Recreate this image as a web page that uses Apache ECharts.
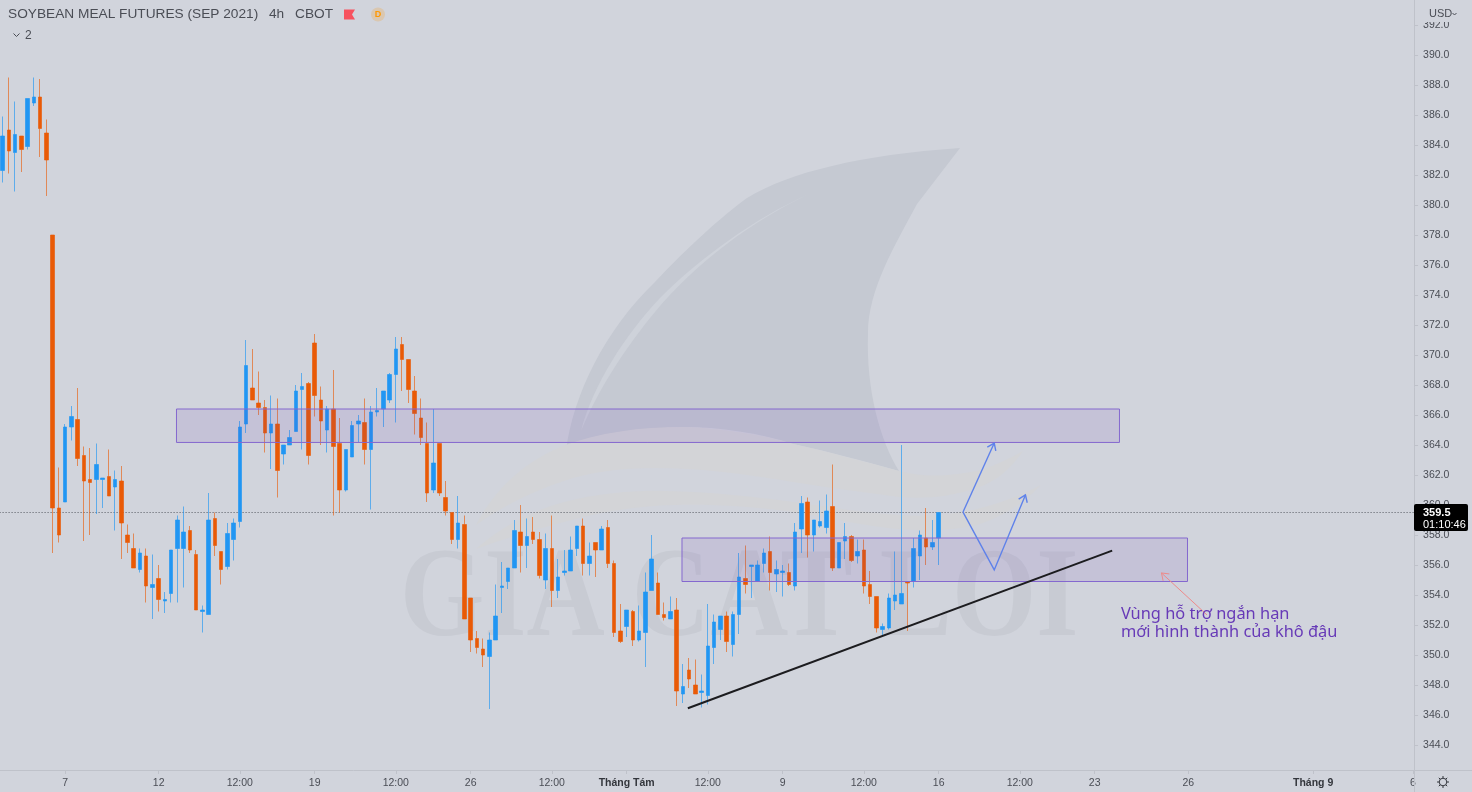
<!DOCTYPE html>
<html><head><meta charset="utf-8">
<style>html,body{margin:0;padding:0;background:#d1d4dc;overflow:hidden}#c{width:1472px;height:792px}</style>
<script src="https://cdn.jsdelivr.net/npm/echarts@6/dist/echarts.min.js"></script>
</head><body><div id="c"></div>
<script>
const slotCount = 227;
const timeTicks = {10:'7',25:'12',38:'12:00',50:'19',63:'12:00',75:'26',88:'12:00',100:'Tháng Tám',113:'12:00',125:'9',138:'12:00',150:'16',163:'12:00',175:'23',190:'26',210:'Tháng 9',226:'6'};
const monthTicks = ['Tháng Tám','Tháng 9'];
const priceTicks = [344,346,348,350,352,354,356,358,360,362,364,366,368,370,372,374,376,378,380,382,384,386,388,390,392];
const opens = [
382.3,385.0,383.5,384.6,383.9,386.8,387.2,384.8,378.0,359.8,
360.2,365.2,365.7,363.3,361.7,361.7,361.7,361.9,361.2,361.6,
358.0,357.1,355.7,356.6,354.5,355.1,353.6,354.1,357.1,357.1,
358.3,356.7,352.9,352.7,359.1,356.9,355.9,357.7,358.9,365.4,
367.8,366.8,366.5,364.8,365.4,363.4,364.0,364.9,367.7,368.1,
370.8,367.0,365.0,366.4,364.1,361.0,363.2,365.4,365.5,363.7,
366.2,366.4,367.0,368.7,370.7,369.7,367.6,365.8,364.1,361.0,
364.1,360.5,359.5,357.7,358.7,353.8,351.1,350.4,349.9,351.0,
354.5,354.9,355.8,358.2,357.3,358.2,357.7,355.0,357.1,354.3,
355.5,355.6,357.1,358.6,356.1,357.5,357.0,358.5,356.1,351.6,
351.9,352.9,351.0,351.5,354.3,354.8,352.7,352.4,353.0,347.4,
349.0,348.0,347.5,347.3,350.5,351.7,352.6,350.7,352.7,355.1,
355.9,354.9,356.1,356.9,355.4,355.5,355.5,354.6,358.4,360.2,
358.0,358.6,358.5,359.9,355.8,357.6,357.9,356.6,357.0,354.7,
353.9,351.7,351.8,353.6,353.4,354.9,354.9,356.6,357.8,357.2,
357.8];
const closes = [
384.6,383.6,384.7,383.7,387.1,387.2,385.1,383.0,359.8,358.0,
365.2,365.9,363.1,361.6,361.5,362.7,361.8,360.6,361.7,358.8,
357.5,355.8,356.8,354.6,354.7,353.7,353.7,357.0,359.0,358.2,
357.0,353.0,353.0,359.0,357.3,355.7,358.1,358.8,365.2,369.3,
367.0,366.5,364.8,365.4,362.3,364.0,364.5,367.6,367.9,363.3,
367.3,365.6,366.4,363.9,361.0,363.7,365.3,365.6,363.7,366.2,
366.3,367.6,368.7,370.4,369.7,367.7,366.1,364.5,360.8,362.8,
360.8,359.6,357.7,358.8,352.4,351.0,350.5,350.0,351.0,352.6,
354.6,355.8,358.3,357.3,357.9,357.7,355.3,357.1,354.3,355.2,
355.6,357.0,358.6,356.1,356.6,357.0,358.4,356.1,351.5,350.9,
353.0,351.0,351.6,354.2,356.4,352.7,352.5,352.9,347.6,347.9,
348.4,347.4,347.6,350.6,352.2,352.6,350.9,352.7,355.2,354.7,
356.0,356.0,356.8,355.5,355.7,355.6,354.7,358.2,360.1,358.0,
359.0,358.9,359.6,355.8,357.5,357.9,356.3,356.9,354.6,353.9,
351.8,351.9,353.8,354.0,354.1,354.8,357.1,358.0,357.2,357.5,
359.5];
const lows = [
381.5,382.1,380.9,382.2,383.7,386.6,383.2,380.6,356.8,357.5,
360.2,364.3,362.6,357.6,358.0,359.4,359.8,360.6,358.3,356.4,
356.8,355.8,355.5,353.5,352.4,352.9,352.8,353.5,353.5,354.5,
356.8,353.0,351.5,352.7,356.6,354.7,355.7,356.3,358.5,364.8,
367.0,366.0,363.5,362.4,360.5,362.7,364.0,364.9,363.7,362.7,
365.9,364.0,363.5,359.3,359.5,360.9,363.2,364.2,362.7,359.7,
365.9,365.2,366.8,365.5,367.6,366.8,364.7,364.0,360.2,360.8,
360.6,359.3,357.4,357.1,352.4,350.2,350.1,349.2,346.4,351.0,
352.8,354.4,355.8,355.5,355.8,357.4,355.1,354.4,353.2,353.8,
355.3,355.6,356.6,355.3,355.3,355.2,357.0,355.8,351.2,350.8,
351.2,350.6,350.9,349.2,354.3,352.7,352.3,352.4,346.6,346.8,
347.8,347.4,346.5,346.7,349.4,351.0,350.2,349.9,351.4,354.1,
353.8,354.9,355.5,354.3,354.2,353.9,354.6,354.3,356.8,356.5,
356.9,358.5,358.1,355.6,355.8,356.4,356.2,356.1,354.1,353.4,
351.5,351.3,351.7,353.0,353.4,351.6,354.5,355.0,356.0,357.0,
356.0];
const highs = [
385.9,388.5,386.9,384.6,387.1,388.5,388.4,385.7,378.0,362.5,
365.4,366.6,367.8,363.9,363.8,364.1,361.8,363.7,362.3,362.6,
358.7,358.1,357.1,357.1,356.7,356.0,354.2,357.0,359.3,359.9,
358.6,357.0,353.3,360.8,359.5,356.9,358.8,359.1,365.6,371.0,
370.4,368.9,367.0,367.3,367.1,364.0,365.0,368.0,368.8,368.2,
371.4,367.9,366.6,369.0,365.8,363.7,365.6,366.0,367.1,366.6,
367.8,367.6,368.8,371.2,371.2,369.7,368.6,367.1,365.5,366.4,
364.1,361.6,359.5,360.6,359.3,353.8,351.6,351.1,351.5,354.7,
356.2,355.8,359.0,360.0,359.1,359.2,358.2,358.1,359.3,356.4,
357.0,357.9,358.6,359.1,357.5,357.5,358.6,359.0,356.3,353.4,
353.0,353.0,353.3,355.5,358.0,355.5,353.5,353.9,353.8,349.4,
349.8,349.7,348.7,353.4,352.7,352.6,352.9,352.9,356.8,357.3,
356.0,356.3,357.1,357.9,356.3,356.0,356.1,358.8,360.6,360.5,
359.0,360.3,360.7,362.7,357.5,358.8,358.0,357.7,357.7,355.6,
353.9,352.1,354.1,356.9,364.0,354.9,357.8,358.3,359.8,359.0,
359.5];
const lastPrice = 359.5;
const countdown = '01:10:46';
// drawings, given as [slot on the time scale, price]
const zoneBoxes = [[27.85,366.4,178.97,364.17],[108.86,357.8,189.87,354.9]];
const trendLine = [[109.8,346.45],[177.8,356.96]];
const upPath = [[153.9,359.53],[158.9,364.13]];
const downUpPath = [[153.9,359.53],[158.9,355.67],[163.9,360.67]];
const calloutPath = [[193,352.67],[185.7,355.47]];
const noteLines = [[179.2,352.74,'Vùng hỗ trợ ngắn hạn'],[179.2,351.51,'mới hình thành của khô đậu']];

const categories = Array.from({length:slotCount},(_,i)=>timeTicks[i]||'');
const candles = opens.map((o,i)=>[o,closes[i],lows[i],highs[i]]);

function polyRender(points,color,width,arrow){
  return function(params,api){
    const pts = points.map(p=>api.coord(p));
    const kids = [{type:'polyline',shape:{points:pts},style:{stroke:color,lineWidth:width,fill:null,lineJoin:'miter'}}];
    if(arrow){
      const a=pts[pts.length-2],b=pts[pts.length-1];
      const t=Math.atan2(b[1]-a[1],b[0]-a[0]),L=8,w=0.62;
      kids.push({type:'polyline',shape:{points:[
        [b[0]-L*Math.cos(t-w),b[1]-L*Math.sin(t-w)],b,
        [b[0]-L*Math.cos(t+w),b[1]-L*Math.sin(t+w)]]},style:{stroke:color,lineWidth:width,fill:null}});
    }
    return {type:'group',children:kids};
  };
}
function drawSeries(id,render,z){
  return {type:'custom',id:id,xAxisIndex:1,yAxisIndex:0,data:[[0,350]],silent:true,z:z,clip:false,renderItem:render};
}
const finPath = 'M566 451 C573 395 605 330 655 282 C690 245 720 218 747 198 C790 172 860 155 960 148 L917 204 C895 245 868 290 868 333 C866 390 880 440 899 471 C860 460 830 452 793 444 C760 433 720 427 683 427 C640 428 600 436 566 451 Z';
const swooshPath = 'M807 195 C755 218 700 258 660 298 C625 335 593 385 581 431 C600 385 630 342 655 312 C695 264 750 222 807 195 Z';
const wave1Path = 'M476 525 C495 490 520 465 560 447 C600 432 640 427 683 427 C720 428 760 434 793 444 C830 452 865 462 899 471 C925 478 950 476 977 471 C995 466 1010 458 1023 451 C1010 470 995 482 977 488 C950 497 925 499 899 497 C865 492 830 488 793 482 C745 474 700 468 655 468 C620 468 590 472 564 481 C530 492 500 508 476 525 Z';
const wave2Path = 'M476 549 C500 528 530 511 564 502 C600 493 635 490 665 491 C710 492 750 496 793 502 C830 507 865 513 899 515 C930 517 955 514 977 509 C1000 503 1022 495 1041 485 C1022 505 1000 518 977 525 C950 531 925 531 899 529 C865 526 830 518 793 512 C750 506 710 504 674 505 C635 506 600 512 564 522 C530 531 500 540 476 549 Z';
const gearPath = 'M1443 776 L1443 778 M1443 786 L1443 788 M1437 782 L1439 782 M1447 782 L1449 782 M1438.8 777.8 L1440.2 779.2 M1445.8 784.8 L1447.2 786.2 M1438.8 786.2 L1440.2 784.8 M1445.8 779.2 L1447.2 777.8';
[['wmFin',finPath],['wmSwoosh',swooshPath],['wmWave1',wave1Path],['wmWave2',wave2Path],['gearRays',gearPath]].forEach(([n,d])=>{
  echarts.graphic.registerShape(n,echarts.graphic.extendPath(d,{}));
});

const txt = '#4a4d55';
const option = {
  animation:false,
  backgroundColor:'#d1d4dc',
  grid:{left:-0.42,top:-5,width:1416.48,height:780,containLabel:false,outerBoundsMode:'none'},
  xAxis:[{
    type:'category',data:categories,boundaryGap:true,offset:-5,
    axisLine:{show:true,onZero:false,lineStyle:{color:'#bfc2ca',width:1}},
    axisTick:{show:true,alignWithLabel:true,length:4,lineStyle:{color:'#bfc2ca'},interval:(i,v)=>v!==''},
    axisLabel:{interval:0,hideOverlap:false,color:txt,fontFamily:'Liberation Sans',fontSize:10.5,margin:8,
      formatter:v=>monthTicks.includes(v)?'{m|'+v+'}':v,
      rich:{m:{fontWeight:'bold',fontSize:10.5,color:'#33363c',fontFamily:'Liberation Sans'}}},
    splitLine:{show:false}
  },{
    type:'value',min:-0.5,max:slotCount-0.5,show:false,splitLine:{show:false},axisLine:{onZero:false}
  }],
  yAxis:[{
    type:'value',position:'right',min:342,max:394,interval:2,offset:-2,scale:true,
    axisLine:{show:true,onZero:false,lineStyle:{color:'#bfc2ca'}},
    axisTick:{show:true,length:4,lineStyle:{color:'#bfc2ca'},customValues:priceTicks},
    axisLabel:{color:txt,fontFamily:'Liberation Sans',fontSize:10.5,margin:9,padding:[2,0,0,0],customValues:priceTicks,formatter:v=>v.toFixed(1)},
    splitLine:{show:false}
  }],
  series:[
    {type:'candlestick',name:'SOYBEAN MEAL',data:candles,barWidth:4,z:5,clip:false,silent:true,
     itemStyle:{color:'#2196f3',color0:'#e95a06',borderColor:'rgba(33,150,243,0.65)',borderColor0:'rgba(233,90,6,0.62)',borderWidth:1},
     markLine:{silent:true,symbol:'none',animation:false,label:{show:false},
       lineStyle:{color:'#555860',type:[1,2],width:1},data:[{yAxis:lastPrice}]}},
    {type:'custom',id:'zones',xAxisIndex:1,yAxisIndex:0,silent:true,z:6,clip:false,data:zoneBoxes,
     renderItem:(p,api)=>{
       const a=api.coord([api.value(0),api.value(1)]),b=api.coord([api.value(2),api.value(3)]);
       return {type:'rect',shape:{x:a[0],y:a[1],width:b[0]-a[0],height:b[1]-a[1]},
         style:{fill:'rgba(103,58,183,0.11)',stroke:'#8468cf',lineWidth:1}};
     }},
    drawSeries('trend',polyRender(trendLine,'#1c1c1f',2,false),7),
    drawSeries('up',polyRender(upPath,'#5f82ea',1.4,true),7),
    drawSeries('downup',polyRender(downUpPath,'#5f82ea',1.4,true),7),
    drawSeries('callout',polyRender(calloutPath,'#ee8a8a',1,true),7),
    {type:'custom',id:'note',xAxisIndex:1,yAxisIndex:0,silent:true,z:7,clip:false,data:noteLines,
     renderItem:(p,api)=>{
       const c=api.coord([api.value(0),api.value(1)]);
       return {type:'text',x:c[0],y:c[1],style:{text:noteLines[p.dataIndex][2],fill:'#673ab7',font:'16.4px "Noto Sans"',textAlign:'left',textVerticalAlign:'middle'}};
     }}
  ],
  graphic:[
    {type:'wmFin',z:0,silent:true,style:{fill:'#c5c9d2'}},
    {type:'wmSwoosh',z:0,silent:true,style:{fill:'#ced2da'}},
    {type:'wmWave1',z:0,silent:true,style:{fill:'#d3d4d7'}},
    {type:'wmWave2',z:0,silent:true,style:{fill:'#d3d4d7'}},
    {type:'text',z:0,silent:true,x:400,y:602.5,scaleX:0.86,style:{text:'GIA CAT LOI',fill:'#c8cbd3',font:'bold 126px "Liberation Serif"',textVerticalAlign:'middle',textAlign:'left'}},

    {type:'rect',z:50,silent:true,shape:{x:1414,y:775,width:1,height:17},style:{fill:'#bfc2ca'}},
    {type:'rect',z:50,silent:true,shape:{x:1415,y:770,width:57,height:1},style:{fill:'#bfc2ca'}},
    {type:'rect',z:50,silent:true,shape:{x:1415,y:0,width:57,height:22},style:{fill:'#d1d4dc'}},
    {type:'text',z:51,x:1429,y:14,style:{text:'USD',fill:txt,font:'11px "Liberation Sans"',textVerticalAlign:'middle'}},
    {type:'polyline',z:51,shape:{points:[[1452.5,13],[1454.5,15],[1456.5,13]]},style:{stroke:txt,lineWidth:1,fill:null}},

    {type:'text',z:51,x:8,y:14.5,style:{text:'SOYBEAN MEAL FUTURES (SEP 2021)',fill:txt,font:'13.7px "Liberation Sans"',textVerticalAlign:'middle'}},
    {type:'text',z:51,x:269,y:14.5,style:{text:'4h',fill:txt,font:'13.7px "Liberation Sans"',textVerticalAlign:'middle'}},
    {type:'text',z:51,x:295,y:14.5,style:{text:'CBOT',fill:txt,font:'13.7px "Liberation Sans"',textVerticalAlign:'middle'}},
    {type:'polygon',z:51,shape:{points:[[344,9.5],[355,9.5],[352,14.5],[355,19.5],[344,19.5]]},style:{fill:'#f7525f'}},
    {type:'circle',z:51,shape:{cx:378,cy:14.5,r:7},style:{fill:'rgba(255,152,0,0.2)'}},
    {type:'text',z:52,x:378,y:14.5,style:{text:'D',fill:'#ff9800',font:'bold 9px "Liberation Sans"',textAlign:'center',textVerticalAlign:'middle'}},
    {type:'polyline',z:51,shape:{points:[[13.5,33.5],[16.5,36.5],[19.5,33.5]]},style:{stroke:txt,lineWidth:1,fill:null}},
    {type:'text',z:51,x:25,y:35.5,style:{text:'2',fill:txt,font:'12px "Liberation Sans"',textVerticalAlign:'middle'}},

    {type:'rect',z:60,shape:{x:1414,y:504,width:54,height:27,r:2},style:{fill:'#000'}},
    {type:'text',z:61,x:1423,y:512.5,style:{text:lastPrice.toFixed(1),fill:'#fff',font:'bold 11px "Liberation Sans"',textVerticalAlign:'middle'}},
    {type:'text',z:61,x:1423,y:524.5,style:{text:countdown,fill:'#fff',font:'11px "Liberation Sans"',textVerticalAlign:'middle'}},

    {type:'circle',z:51,shape:{cx:1443,cy:782,r:3.8},style:{fill:'none',stroke:'#33363c',lineWidth:1}},
    {type:'gearRays',z:51,style:{fill:'none',stroke:'#33363c',lineWidth:1}}
  ]
};
const chart = echarts.init(document.getElementById('c'),null,{renderer:'canvas',width:1472,height:792});
chart.setOption(option);
</script></body></html>
